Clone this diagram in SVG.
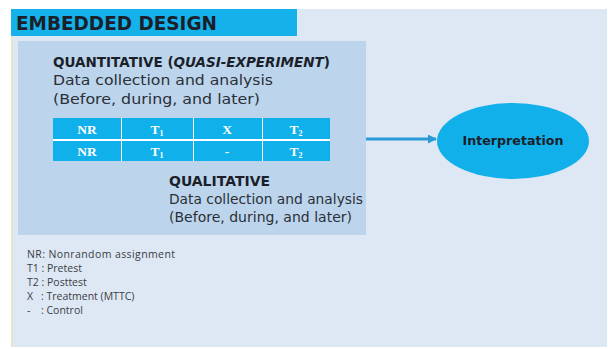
<svg xmlns="http://www.w3.org/2000/svg" width="608" height="349" viewBox="0 0 608 349">
  <style>
    .sans { font-family: "DejaVu Sans", "Open Sans", "Liberation Sans", sans-serif; }
    .dark { fill: #1b1f2a; }
    .body { font-size: 14.5px; fill: #2b2f38; }
    .legend { font-size: 10.5px; fill: #3a3d44; font-family: "Open Sans", "Liberation Sans", sans-serif; }
    .cell { fill: #10b0ea; }
    .ct { font-family: "Liberation Serif", "DejaVu Serif", serif; font-weight: bold; font-size: 13.5px; fill: #ffffff; text-anchor: middle; }
    .sub { font-size: 8px; }
  </style>
  <defs>
    <marker id="arrow" viewBox="0 0 10 10" refX="9" refY="5" markerWidth="3" markerHeight="3" orient="auto">
      <path d="M0,0 L10,5 L0,10 z" fill="#2a9ad6"/>
    </marker>
  </defs>

  <!-- slide background -->
  <rect x="0" y="0" width="608" height="349" fill="#ffffff"/>
  <rect x="11" y="9" width="596" height="338" fill="#dde8f4"/>
  <rect x="11" y="9" width="2" height="338" fill="#e8e4cc"/>

  <!-- title bar -->
  <g id="title">
    <rect x="11" y="9" width="286" height="27" fill="#14b1ea"/>
    <text x="16" y="30" class="sans dark" font-size="20" font-weight="bold" textLength="201" lengthAdjust="spacingAndGlyphs">EMBEDDED DESIGN</text>
  </g>

  <!-- embedded design panel -->
  <g id="design">
    <rect x="18" y="41" width="348" height="194" fill="#bcd5ec"/>
    <text x="53" y="67" class="sans dark" font-size="13.5" font-weight="bold" textLength="277" lengthAdjust="spacingAndGlyphs">QUANTITATIVE (<tspan font-style="italic">QUASI-EXPERIMENT</tspan>)</text>
    <text x="53" y="85" class="sans body" textLength="220" lengthAdjust="spacingAndGlyphs">Data collection and analysis</text>
    <text x="53" y="104" class="sans body" textLength="207" lengthAdjust="spacingAndGlyphs">(Before, during, and later)</text>

    <g id="table">
      <rect class="cell" x="53" y="118" width="277" height="21"/>
      <rect class="cell" x="53" y="141" width="277" height="20"/>
      <line x1="53" y1="140" x2="330" y2="140" stroke="#ffffff" stroke-width="2"/>
      <g stroke="#ffffff" stroke-width="1">
        <line x1="121.5" y1="118" x2="121.5" y2="161"/>
        <line x1="193.5" y1="118" x2="193.5" y2="161"/>
        <line x1="262.5" y1="118" x2="262.5" y2="161"/>
      </g>
      <text class="ct" x="87" y="134">NR</text>
      <text class="ct" x="157" y="134">T<tspan class="sub" dy="2">1</tspan></text>
      <text class="ct" x="227" y="134">X</text>
      <text class="ct" x="296" y="134">T<tspan class="sub" dy="2">2</tspan></text>
      <text class="ct" x="87" y="156">NR</text>
      <text class="ct" x="157" y="156">T<tspan class="sub" dy="2">1</tspan></text>
      <text class="ct" x="227" y="156">-</text>
      <text class="ct" x="296" y="156">T<tspan class="sub" dy="2">2</tspan></text>
    </g>

    <text x="169" y="186" class="sans dark" font-size="14" font-weight="bold" textLength="101" lengthAdjust="spacingAndGlyphs">QUALITATIVE</text>
    <text x="169" y="204" class="sans body" textLength="194" lengthAdjust="spacingAndGlyphs">Data collection and analysis</text>
    <text x="169" y="222" class="sans body" textLength="183" lengthAdjust="spacingAndGlyphs">(Before, during, and later)</text>
  </g>

  <!-- connectors -->
  <g id="connectors">
    <line x1="366" y1="139" x2="436" y2="139" stroke="#2a9ad6" stroke-width="3" marker-end="url(#arrow)"/>
  </g>

  <g id="interpretation">
    <ellipse cx="513" cy="141" rx="76" ry="38" fill="#12b0ea"/>
    <text x="513" y="145" class="sans dark" font-size="13" font-weight="bold" text-anchor="middle" textLength="101" lengthAdjust="spacingAndGlyphs">Interpretation</text>
  </g>

  <!-- legend -->
  <g id="legend" class="legend">
    <text x="27" y="258" textLength="148">NR: Nonrandom assignment</text>
    <text x="27" y="272">T1 : Pretest</text>
    <text x="27" y="286">T2 : Posttest</text>
    <text x="27" y="300">X</text>
    <text x="41" y="300">: Treatment (MTTC)</text>
    <text x="27" y="314">-</text>
    <text x="41" y="314">: Control</text>
  </g>
</svg>
